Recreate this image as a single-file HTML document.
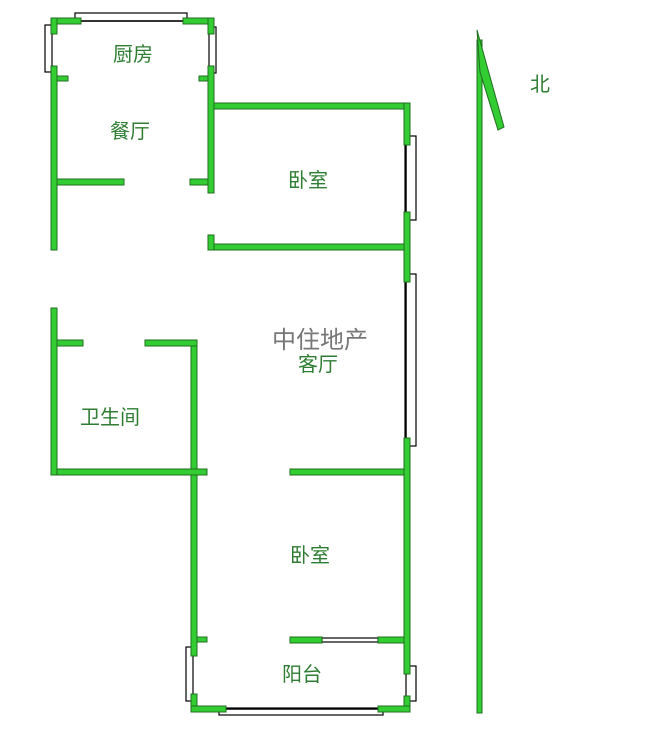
<!DOCTYPE html>
<html><head><meta charset="utf-8"><style>
body{margin:0;background:#fff;}
svg{display:block}
text{font-family:"Liberation Sans","Noto Sans CJK SC",sans-serif;font-size:20px;fill:#2e7d32;}
</style></head><body>
<svg width="657" height="732" viewBox="0 0 657 732">
<g fill="#fff" stroke="#000" stroke-width="1.2">
<rect x="75" y="13" width="112" height="8"/>
<rect x="45" y="25" width="7" height="47"/>
<rect x="209" y="27" width="7" height="46"/>
<rect x="405" y="136" width="11" height="84"/>
<rect x="405" y="274" width="11" height="172"/>
<rect x="186" y="647" width="7" height="54"/>
<rect x="406" y="666" width="10" height="35"/>
<rect x="219" y="708" width="164" height="7"/>
<rect x="322" y="638" width="56" height="4"/>
</g>
<g stroke="#000" stroke-width="1.5">
<line x1="81" y1="21" x2="183" y2="21"/>
<line x1="406" y1="145" x2="406" y2="212"/>
<line x1="406" y1="282" x2="406" y2="438"/>
<line x1="226" y1="709" x2="378" y2="709"/>
</g>
<g fill="#3c3" stroke="#1f6f1f" stroke-width="1">
<rect x="51" y="18" width="30" height="6"/>
<rect x="183" y="18" width="31" height="6"/>
<rect x="51" y="18" width="6" height="16"/>
<rect x="51" y="66" width="6" height="184"/>
<rect x="51" y="308" width="6" height="167"/>
<rect x="57" y="76" width="11" height="5"/>
<rect x="208" y="18" width="6" height="16"/>
<rect x="208" y="66" width="6" height="127"/>
<rect x="199" y="76" width="9" height="5"/>
<rect x="214" y="103" width="196" height="6"/>
<rect x="404" y="103" width="6" height="42"/>
<rect x="404" y="212" width="6" height="70"/>
<rect x="404" y="438" width="6" height="236"/>
<rect x="404" y="696" width="6" height="16"/>
<rect x="57" y="179" width="67" height="6"/>
<rect x="190" y="179" width="18" height="6"/>
<rect x="208" y="235" width="6" height="15"/>
<rect x="214" y="244" width="190" height="6"/>
<rect x="57" y="340" width="26" height="6"/>
<rect x="145" y="340" width="52" height="6"/>
<rect x="191" y="346" width="6" height="310"/>
<rect x="191" y="694" width="6" height="18"/>
<rect x="57" y="469" width="150" height="6"/>
<rect x="290" y="469" width="114" height="6"/>
<rect x="197" y="637" width="10" height="5"/>
<rect x="290" y="637" width="32" height="6"/>
<rect x="378" y="637" width="26" height="6"/>
<rect x="191" y="706" width="35" height="6"/>
<rect x="378" y="706" width="32" height="6"/>
<rect x="477" y="40" width="5" height="673"/>
<polygon points="477,30 504,127 498,130 480,72"/>
</g>
<text x="113" y="61">厨房</text>
<text x="110" y="138">餐厅</text>
<text x="288" y="187">卧室</text>
<text x="272" y="348" style="fill:#777;font-size:24px">中住地产</text>
<text x="298" y="371">客厅</text>
<text x="80" y="424">卫生间</text>
<text x="290" y="562">卧室</text>
<text x="282" y="681">阳台</text>
<text x="530" y="91">北</text>
</svg>
</body></html>
